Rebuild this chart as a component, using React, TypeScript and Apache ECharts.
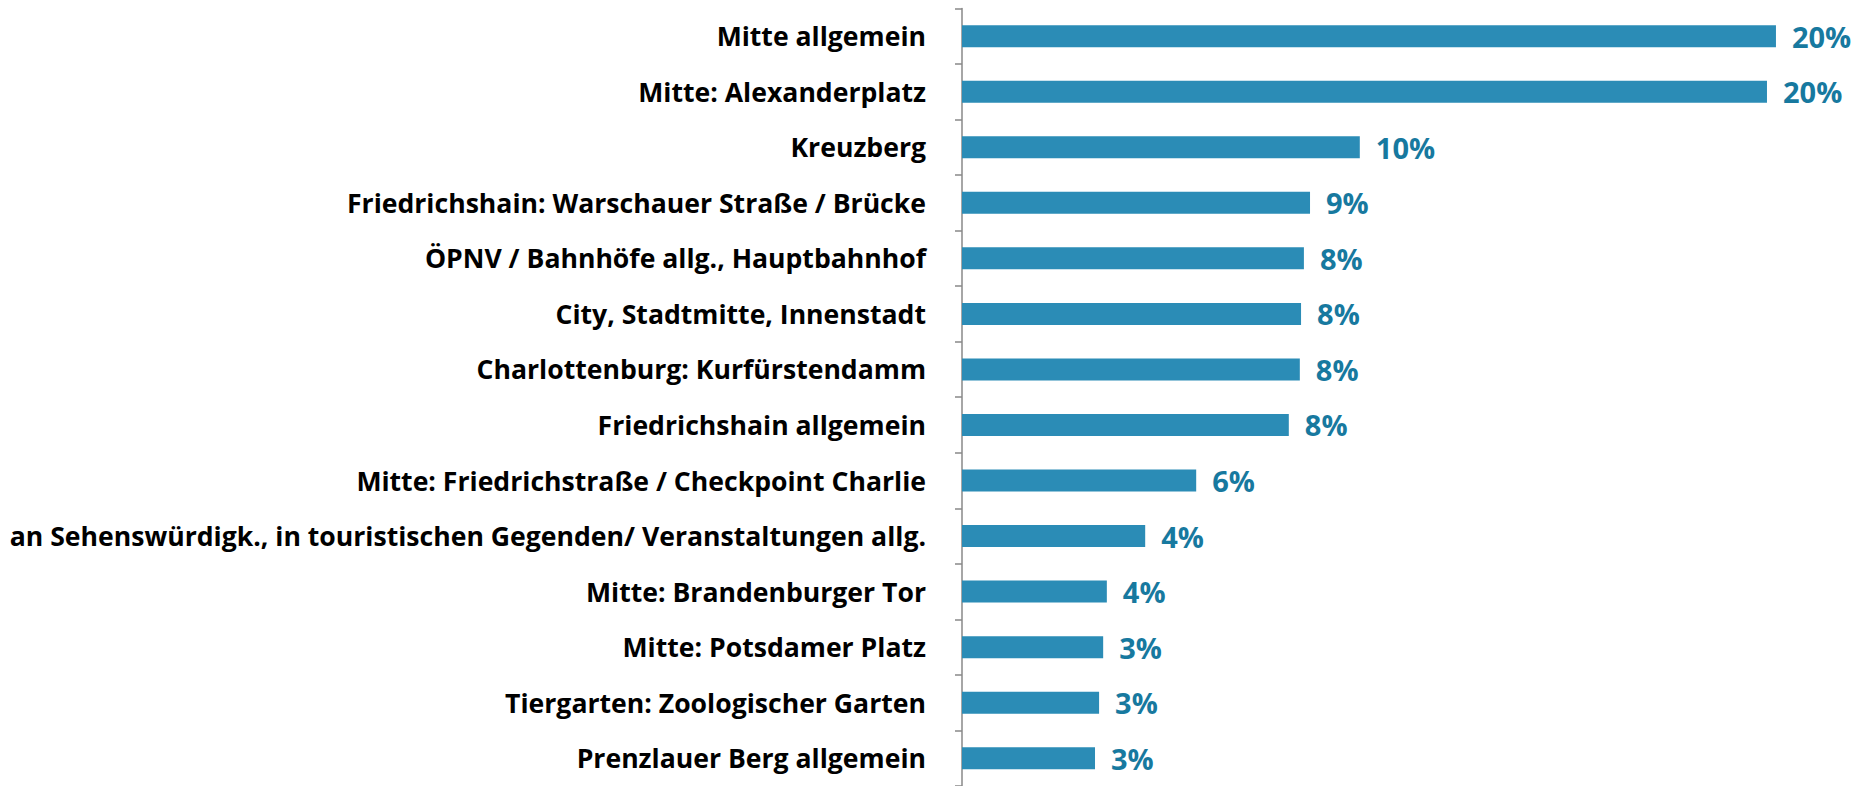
import React, { useEffect, useRef } from "react";
import * as echarts from "echarts";

const categories: string[] = [
  "Mitte allgemein",
  "Mitte: Alexanderplatz",
  "Kreuzberg",
  "Friedrichshain: Warschauer Straße / Brücke",
  "ÖPNV / Bahnhöfe allg., Hauptbahnhof",
  "City, Stadtmitte, Innenstadt",
  "Charlottenburg: Kurfürstendamm",
  "Friedrichshain allgemein",
  "Mitte: Friedrichstraße / Checkpoint Charlie",
  "an Sehenswürdigk., in touristischen Gegenden/ Veranstaltungen allg.",
  "Mitte: Brandenburger Tor",
  "Mitte: Potsdamer Platz",
  "Tiergarten: Zoologischer Garten",
  "Prenzlauer Berg allgemein",
];

const shares: number[] = [19.95, 19.73, 9.75, 8.53, 8.38, 8.31, 8.28, 8.01, 5.74, 4.49, 3.55, 3.46, 3.36, 3.26];

const BAR_COLOR = "#2B8CB6";
const LABEL_COLOR = "#17799F";
const FONT = "'Open Sans', 'Noto Sans', sans-serif";

export default function App() {
  const ref = useRef<HTMLDivElement>(null);

  useEffect(() => {
    document.body.style.margin = "0";
    if (!ref.current) return;
    const chart = echarts.init(ref.current, null, { renderer: "svg" });
    chart.setOption({
      animation: false,
      backgroundColor: "#FFFFFF",
      grid: { left: 962, top: 8.4, width: 897.6, height: 782 },
      xAxis: {
        type: "value",
        min: 0,
        max: 22,
        show: false,
        splitLine: { show: false },
      },
      yAxis: {
        type: "category",
        data: categories,
        inverse: true,
        axisLine: { show: true, lineStyle: { color: "#888888", width: 1.5 } },
        axisTick: { show: true, length: 7, lineStyle: { color: "#888888", width: 1.5 } },
        axisLabel: {
          margin: 36,
          color: "#000000",
          fontFamily: FONT,
          fontWeight: "bold",
          fontSize: 26.6,
        },
      },
      series: [
        {
          type: "bar",
          data: shares,
          barWidth: 22,
          itemStyle: { color: BAR_COLOR },
          label: {
            show: true,
            position: "right",
            distance: 16,
            color: LABEL_COLOR,
            fontFamily: FONT,
            fontWeight: "bold",
            fontSize: 29,
            formatter: (p: any) => Math.round(p.value) + "%",
          },
        },
      ],
    });
    return () => chart.dispose();
  }, []);

  return <div ref={ref} style={{ width: 1866, height: 786 }} />;
}
